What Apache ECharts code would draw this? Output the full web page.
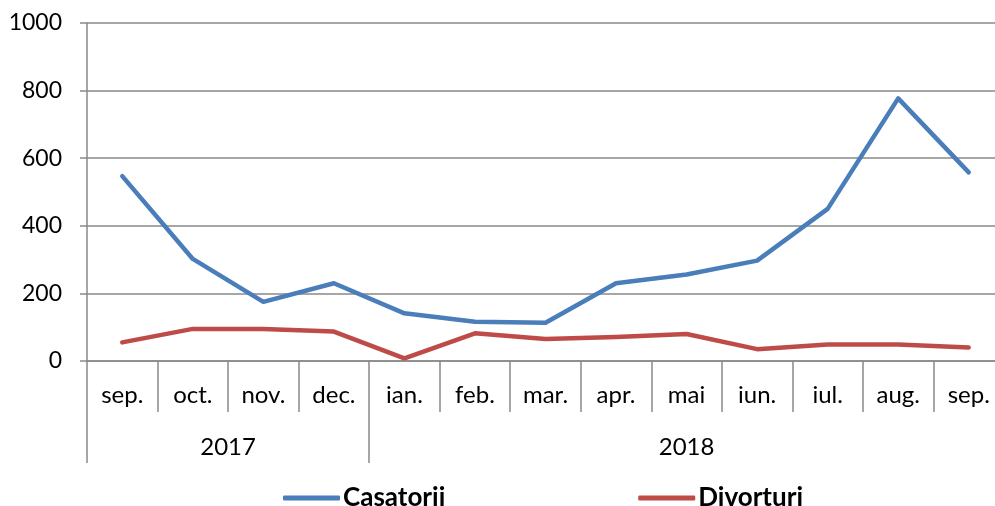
<!DOCTYPE html>
<html>
<head>
<meta charset="utf-8">
<script src="https://cdn.jsdelivr.net/npm/echarts@6/dist/echarts.min.js"></script>
<style>html,body{margin:0;padding:0;background:#fff;overflow:hidden}#c{width:1012px;height:506px}</style>
</head>
<body>
<div id="c"></div>
<script>
var months = ['sep.', 'oct.', 'nov.', 'dec.', 'ian.', 'feb.', 'mar.', 'apr.', 'mai', 'iun.', 'iul.', 'aug.', 'sep.'];
var years = ['2017', '2018'];
var yearSpans = [4, 9];
var casatorii = [547, 302, 175, 230, 141, 116, 113, 230, 256, 297, 450, 777, 558];
var divorturi = [55, 95, 95, 87, 8, 82, 65, 71, 80, 35, 49, 49, 40];
var yTicks = [0, 200, 400, 600, 800, 1000];

// half-category positions for the year axis (boundaryGap false)
var halfCount = months.length * 2 + 1;
var yearAxisData = [];
for (var i = 0; i < halfCount; i++) yearAxisData.push('');
var boundaries = {0: true};
var pos = 0;
for (var k = 0; k < years.length; k++) {
  yearAxisData[pos + yearSpans[k]] = years[k];
  pos += yearSpans[k] * 2;
  boundaries[pos] = true;
}

var FONT = 'Lato';
var GRID = '#898989';
var chart = echarts.init(document.getElementById('c'));
chart.setOption({
  animation: false,
  textStyle: {fontFamily: FONT},
  grid: {left: 87, width: 917, top: 23, height: 338, containLabel: false},
  legend: {
    left: 278, top: 480, itemGap: 193, itemWidth: 57, itemHeight: 5, icon: 'roundRect',
    textStyle: {fontFamily: FONT, fontWeight: 'bold', fontSize: 26, color: '#000', padding: [0, 0, 0, -2]},
    data: ['Casatorii', 'Divorturi']
  },
  xAxis: [{
    type: 'category',
    data: months,
    boundaryGap: true,
    axisLine: {show: true, lineStyle: {color: GRID, width: 1.5}},
    axisTick: {show: true, interval: 0, length: 51, lineStyle: {color: GRID, width: 1.5}},
    axisLabel: {interval: 0, margin: 22, fontSize: 24, color: '#000', fontFamily: FONT}
  }, {
    type: 'category',
    data: yearAxisData,
    boundaryGap: false,
    position: 'bottom',
    axisLine: {show: false},
    axisTick: {show: true, length: 102, interval: function (idx) { return !!boundaries[idx]; }, lineStyle: {color: GRID, width: 1.5}},
    axisLabel: {interval: 0, margin: 74, fontSize: 24, color: '#000', fontFamily: FONT}
  }],
  yAxis: {
    type: 'value',
    min: yTicks[0], max: yTicks[yTicks.length - 1], interval: 200,
    axisLine: {show: true, lineStyle: {color: GRID, width: 1.5}},
    axisTick: {show: true, length: 7, lineStyle: {color: GRID, width: 1.5}},
    axisLabel: {margin: 25, fontSize: 23, color: '#000', fontFamily: FONT, formatter: function (v) { return String(v); }},
    splitLine: {show: true, lineStyle: {color: GRID, width: 1.5}}
  },
  series: [{
    name: 'Casatorii', type: 'line', xAxisIndex: 0, data: casatorii,
    showSymbol: false, symbol: 'none',
    lineStyle: {color: '#4A7EBB', width: 4.5, cap: 'round', join: 'round'},
    itemStyle: {color: '#4A7EBB'}
  }, {
    name: 'Divorturi', type: 'line', xAxisIndex: 0, data: divorturi,
    showSymbol: false, symbol: 'none',
    lineStyle: {color: '#BE4B48', width: 4.5, cap: 'round', join: 'round'},
    itemStyle: {color: '#BE4B48'}
  }]
});
</script>
</body>
</html>
